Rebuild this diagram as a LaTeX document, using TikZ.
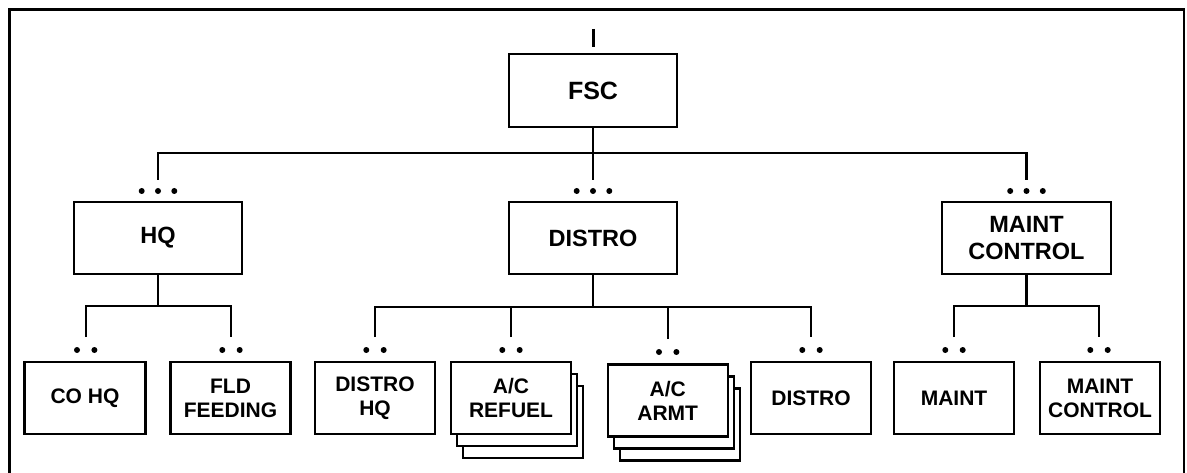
\documentclass[tikz,border=0pt]{standalone}
\usepackage{fontspec}
\setmainfont{Liberation Sans}
\begin{document}
\begin{tikzpicture}[x=1pt,y=-1pt,
  line width=2.1pt,
  boxA/.style={draw,fill=white,rectangle,inner sep=0pt,align=center,minimum width=168pt,minimum height=72pt,font=\fontsize{23.5}{26.7}\selectfont\bfseries},
  boxB/.style={draw,fill=white,rectangle,inner sep=0pt,align=center,minimum width=120pt,minimum height=72pt,font=\fontsize{21}{24}\selectfont\bfseries},
  dotmark/.style={fill=black,circle,inner sep=0pt,minimum size=6pt,draw=none}]
\useasboundingbox (0,0) rectangle (1187,473);
% frame (open at the bottom)
\draw[line width=2.4pt] (9.5,480) -- (9.5,9.7) -- (1183.7,9.7) -- (1183.7,480);

% top level
\node[boxA,minimum height=73pt,font=\fontsize{25}{28}\selectfont\bfseries] (fsc) at (593,90.5) {FSC};
\coordinate (stubA) at (593.5,29);
\coordinate (stubB) at (593.5,47);
\draw (stubA) -- (stubB);

% second level
\node[boxA] (hq) at (158,238) {HQ};
\node[boxA] (distro) at (593,238) {DISTRO};
\node[boxA,minimum width=169pt] (mc) at (1026.5,238) {MAINT\\CONTROL};

\coordinate (bus) at (593,153);
\coordinate (hqtop) at (158,180);
\coordinate (dtop) at (593,180);
\coordinate (mctop) at (1026.5,180);
\draw (fsc.south) -- (dtop);
\draw (hqtop) -- (hqtop |- bus) -- (mctop |- bus) -- (mctop);

\foreach \c in {158,593,1026.5}{
  \foreach \d in {-16.3,0,16.3}{
    \node[dotmark] at (\c+\d,191) {};
  }
}

% third level
\node[boxB,minimum width=121pt] (cohq) at (85,398) {CO HQ};
\node[boxB] (fld) at (230.5,398) {FLD\\FEEDING};
\node[boxB] (dhq) at (375,398) {DISTRO\\HQ};
% stacked A/C REFUEL
\node[boxB] (ref3) at (523,422) {};
\node[boxB] (ref2) at (517,410) {};
\node[boxB] (refuel) at (511,398) {A/C\\REFUEL};
% stacked A/C ARMT
\node[boxB] (arm3) at (679.7,424.5) {};
\node[boxB] (arm2) at (673.7,412.5) {};
\node[boxB] (armt) at (667.7,400.5) {A/C\\ARMT};
\node[boxB] (dist) at (811,398) {DISTRO};
\node[boxB] (maint) at (954,398) {MAINT};
\node[boxB] (mc2) at (1100,398) {MAINT\\CONTROL};

% HQ group
\coordinate (hqbus) at (158,306);
\coordinate (cohqtop) at (85.7,337);
\coordinate (fldtop) at (231,337);
\draw (hq.south) -- (hqbus);
\draw (cohqtop) -- (cohqtop |- hqbus) -- (fldtop |- hqbus) -- (fldtop);

% DISTRO group
\coordinate (dbus) at (593,307);
\coordinate (dhqtop) at (375,337);
\coordinate (reftop) at (511,337);
\coordinate (armtop) at (667.7,339);
\coordinate (disttop) at (811,337);
\draw (distro.south) -- (dbus);
\draw (dhqtop) -- (dhqtop |- dbus) -- (disttop |- dbus) -- (disttop);
\draw (reftop) -- (reftop |- dbus);
\draw (armtop) -- (armtop |- dbus);

% MAINT group
\coordinate (mbus) at (1026.5,306);
\coordinate (mtop) at (954,337);
\coordinate (mc2top) at (1099,337);
\draw (mc.south) -- (mbus);
\draw (mtop) -- (mtop |- mbus) -- (mc2top |- mbus) -- (mc2top);

% two-dot marks
\foreach \c/\y in {85.7/350,231/350,375/350,511/350,667.7/352,811/350,954/350,1099/350}{
  \node[dotmark] at (\c-8.7,\y) {};
  \node[dotmark] at (\c+8.7,\y) {};
}
\end{tikzpicture}
\end{document}
